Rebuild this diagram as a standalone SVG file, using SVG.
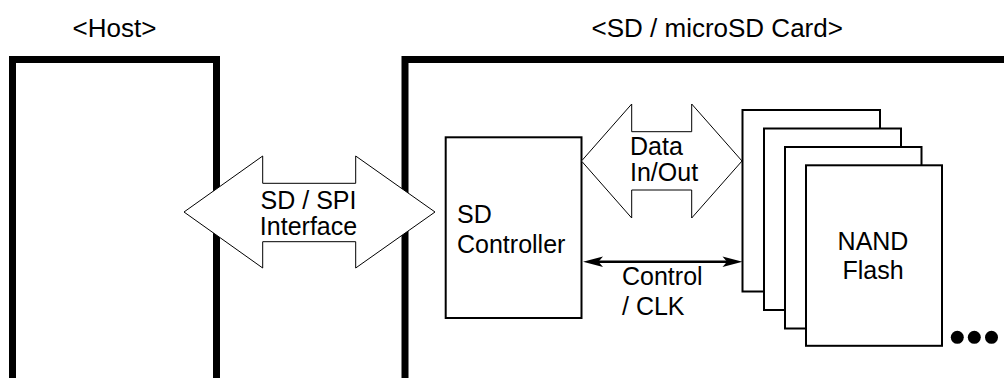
<svg xmlns="http://www.w3.org/2000/svg" width="1004" height="378" viewBox="0 0 1004 378">
<style>
text{font-family:"Liberation Sans",Arial,sans-serif;font-size:25px;fill:#000}
.hdr{font-size:26px}
.frame{fill:none;stroke:#000;stroke-width:7}
.box{fill:#fff;stroke:#000;stroke-width:2}
.block{fill:#fff;stroke:#000;stroke-width:1}
</style>
<rect width="1004" height="378" fill="#fff"/>
<g id="host">
<path class="frame" d="M12.5,378 V59.5 H216.5 V378"/>
<text class="hdr" x="114.5" y="36.5" text-anchor="middle">&lt;Host&gt;</text>
</g>
<g id="card">
<path class="frame" d="M405,378 V59.5 H1010"/>
<text class="hdr" x="591.5" y="36.5">&lt;SD / microSD Card&gt;</text>
</g>
<g id="controller">
<rect class="box" x="445.7" y="137.3" width="135.8" height="180.7"/>
<text x="457" y="223.3">SD</text>
<text x="457" y="253.3">Controller</text>
</g>
<g id="nand">
<rect class="box" x="742.5" y="110" width="137.5" height="181.5"/>
<rect class="box" x="764" y="128.5" width="137" height="181.5"/>
<rect class="box" x="785" y="147" width="136.5" height="181.5"/>
<rect class="box" x="806" y="165.3" width="136" height="180.5"/>
<text x="873" y="250" text-anchor="middle">NAND</text>
<text x="873" y="279.3" text-anchor="middle">Flash</text>
</g>
<g id="more">
<circle cx="957.3" cy="337.3" r="6.5"/>
<circle cx="974.3" cy="337.3" r="6.5"/>
<circle cx="991.5" cy="337.3" r="6.5"/>
</g>
<g id="connectors">
<g id="sdspi">
<polygon class="block" points="184,212 262.7,156 262.7,183.3 355.7,183.3 355.7,156 435,212 355.7,268 355.7,241.7 262.7,241.7 262.7,268"/>
<text x="308.5" y="209" text-anchor="middle">SD / SPI</text>
<text x="308.5" y="235" text-anchor="middle">Interface</text>
</g>
<g id="data">
<polygon class="block" points="581.5,161 631.7,104 631.7,131.7 691.7,131.7 691.7,104 742,161 691.7,218 691.7,190 631.7,190 631.7,218"/>
<text x="630" y="155">Data</text>
<text x="630" y="180.5">In/Out</text>
</g>
<g id="control">
<line x1="595" y1="261.7" x2="731" y2="261.7" stroke="#000" stroke-width="2.5"/>
<polygon points="583,261.7 603,256.5 598.5,261.7 603,266.9"/>
<polygon points="742.5,261.7 722.5,256.5 727,261.7 722.5,266.9"/>
<text x="622" y="285">Control</text>
<text x="622" y="315">/ CLK</text>
</g>
</g>
</svg>
